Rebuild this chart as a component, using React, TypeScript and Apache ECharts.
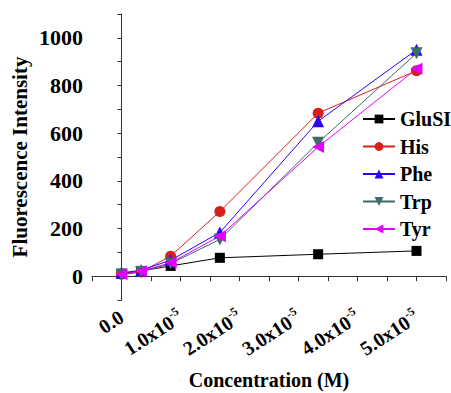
import React, { useEffect, useRef } from "react";
import * as echarts from "echarts";

const concentrations = [0, 0.333, 0.833, 1.667, 3.333, 5.0]; // units of 1e-5 M
const gluSI = [11, 22, 43, 77, 92, 106];
const his = [8, 18, 84, 271, 684, 862];
const phe = [14, 25, 67, 183, 650, 950];
const trp = [5, 18, 53, 154, 560, 935];
const tyr = [8, 21, 56, 168, 542, 870];
const seriesNames = ["GluSI", "His", "Phe", "Trp", "Tyr"];
const xTickLabels = ["0.0", "1.0x10", "2.0x10", "3.0x10", "4.0x10", "5.0x10"];

const FONT = "Liberation Serif";

export default function App() {
  const ref = useRef<HTMLDivElement>(null);
  useEffect(() => {
    if (!ref.current) return;
    const chart = echarts.init(ref.current, null, { renderer: "svg" });
    const pair = (ys: number[]) => concentrations.map((x, i) => [x, ys[i]]);
    const mk = (
      name: string,
      ys: number[],
      color: string,
      symbol: string,
      size: number
    ) => ({
      name,
      type: "line",
      data: pair(ys),
      symbol,
      symbolSize: size,
      lineStyle: { color, width: 1 },
      itemStyle: { color },
      z: 2,
    });
    chart.setOption({
      animation: false,
      grid: {
        left: 92,
        right: 5,
        top: 14,
        bottom: 93,
        containLabel: false,
        outerBoundsMode: "none",
      },
      legend: {
        orient: "vertical",
        left: 357,
        top: 104,
        itemWidth: 32,
        itemHeight: 11,
        itemGap: 7.5,
        data: seriesNames,
        textStyle: {
          fontFamily: FONT,
          fontWeight: "bold",
          fontSize: 20,
          color: "#000",
          overflow: "none",
        },
      },
      xAxis: {
        type: "value",
        min: -0.5,
        max: 5.5,
        interval: 0.5,
        name: "Concentration (M)",
        nameLocation: "middle",
        nameGap: 70,
        nameMoveOverlap: false,
        nameTextStyle: {
          fontFamily: FONT,
          fontWeight: "bold",
          fontSize: 20,
          color: "#000",
        },
        splitLine: { show: false },
        axisLine: { lineStyle: { color: "#333", width: 1 } },
        axisTick: { length: 5, lineStyle: { color: "#333" } },
        axisLabel: {
          rotate: 33,
          margin: 15,
          fontFamily: FONT,
          fontWeight: "bold",
          fontSize: 20,
          color: "#000",
          formatter: (v: number) => {
            const r = Math.round(v * 2) / 2;
            if (Math.abs(r - Math.round(r)) > 1e-6 || r < 0 || r > 5) return "";
            const idx = Math.round(r);
            if (idx === 0) return "{a|" + xTickLabels[0] + "}";
            return "{a|" + xTickLabels[idx] + "}{b|-5}";
          },
          rich: {
            a: {
              fontFamily: FONT,
              fontWeight: "bold",
              fontSize: 20,
              color: "#000",
            },
            b: {
              fontFamily: FONT,
              fontWeight: "bold",
              fontSize: 12,
              color: "#000",
              verticalAlign: "top",
              padding: [0, 0, 12, 0],
            },
          },
        },
      },
      yAxis: {
        type: "value",
        min: -100,
        max: 1100,
        interval: 100,
        name: "Fluorescence Intensity",
        nameLocation: "middle",
        nameGap: 62,
        nameMoveOverlap: false,
        nameTextStyle: {
          fontFamily: FONT,
          fontWeight: "bold",
          fontSize: 21,
          color: "#000",
        },
        splitLine: { show: false },
        axisLine: { show: true, lineStyle: { color: "#333", width: 1 } },
        axisTick: { show: true, length: 4, lineStyle: { color: "#333" } },
        axisLabel: {
          margin: 9,
          fontFamily: FONT,
          fontWeight: "bold",
          fontSize: 22,
          color: "#000",
          formatter: (v: number) => {
            const r = Math.round(v);
            if (r < 0 || r > 1000 || r % 200 !== 0) return "";
            return String(r);
          },
        },
      },
      series: [
        mk("GluSI", gluSI, "#000000", "rect", 10),
        mk("His", his, "#d61f1f", "circle", 11),
        mk("Phe", phe, "#2a00ff", "triangle", 12),
        mk("Trp", trp, "#3d6b6b", "path://M0,0 L10,0 L5,9 Z", 12),
        mk("Tyr", tyr, "#e100ff", "path://M0,5 L9,0 L9,10 Z", 12),
      ],
    });
    return () => chart.dispose();
  }, []);
  return (
    <div
      ref={ref}
      style={{ position: "absolute", left: 0, top: 0, width: 451, height: 393 }}
    />
  );
}
